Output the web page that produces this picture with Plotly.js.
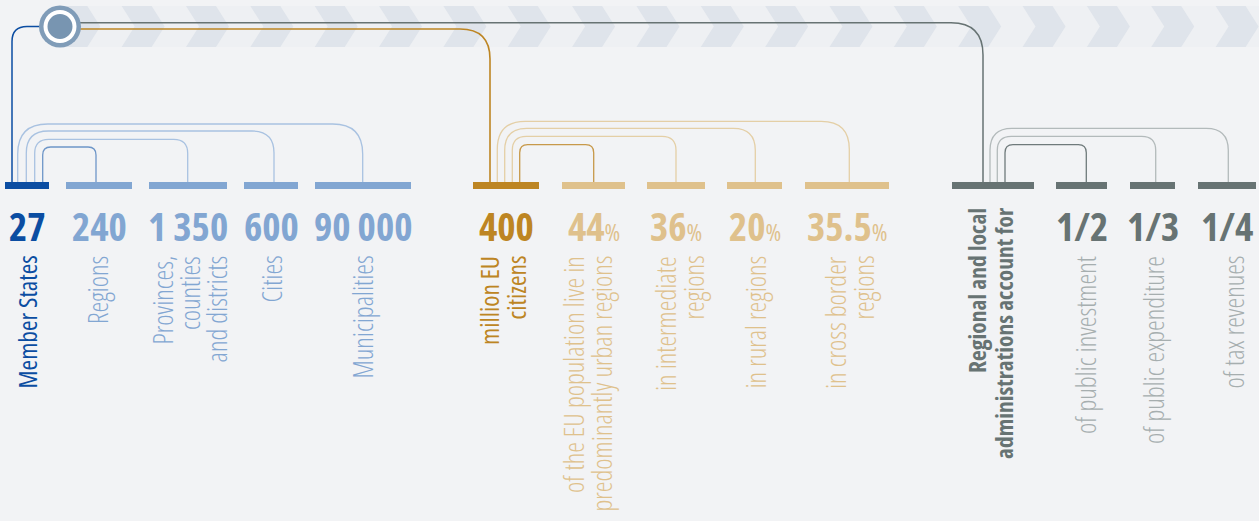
<!DOCTYPE html>
<html><head><meta charset="utf-8">
<script src="https://cdn.plot.ly/plotly-3.0.1.min.js"></script>
<style>html,body{margin:0;padding:0;background:#f2f3f5;}#chart{width:1259px;height:521px;}
svg text{font-stretch:75% !important;}</style>
</head><body><div id="chart"></div>
<script>
// ---- data ----
const blueValues = ['27', '240', '1 350', '600', '90 000'];
const blueLabels = ['Member States', 'Regions', 'Provinces,<br>counties<br>and districts', 'Cities', 'Municipalities'];
const goldValues = ['400', '44', '36', '20', '35.5'];
const goldUnits = ['', '%', '%', '%', '%'];
const goldLabels = ['million EU<br>citizens', 'of the EU population live in<br>predominantly urban regions', 'in intermediate<br>regions', 'in rural regions', 'in cross border<br>regions'];
const grayValues = ['', '1/2', '1/3', '1/4'];
const grayLabels = ['Regional and local<br>administrations account for', 'of public investment', 'of public expenditure', 'of tax revenues'];

// ---- layout geometry (pixel space) ----
const blueBars = [[5, 49], [66, 132], [149, 227], [244, 298], [315, 411]];
const goldBars = [[473, 539], [562, 625], [647, 705], [727, 782], [805, 889]];
const grayBars = [[952, 1034], [1056, 1107], [1130, 1175], [1198, 1256]];
const blueLabelX = [26, 97, 189, 271, 362];
const goldLabelX = [502, 587, 679, 755, 849];
const grayLabelX = [990, 1085, 1153, 1233];
const blueArcX = [[17.7, 362.7, 124, 30], [26.3, 274, 131, 22], [34.7, 187.7, 139.3, 14], [42.7, 96, 147, 8]];
const goldArcX = [[497.3, 849.3, 121.3, 28], [504.7, 755.3, 128.3, 22], [512.3, 676, 136.3, 14], [519.7, 593.7, 144.7, 8]];
const grayArcX = [[990, 1228.3, 128.3, 22], [997.3, 1155.7, 136.3, 14], [1005, 1086.3, 144.7, 8]];

const C = {
  bg: '#f2f3f5', band: '#eef0f3', chev: '#dfe4eb',
  blueD: '#0b4da2', blueL: '#82a6d2', blueArc: '#a9c2e1', blueArcIn: '#6e96c8',
  goldD: '#bd8523', goldL: '#dfc18c', goldArc: '#e4cfa6', goldArcIn: '#c7994a',
  grayD: '#677373', grayL: '#a6aeaf', grayArc: '#b3babb', grayArcIn: '#6f7a7b'
};
const FONT = 'Open Sans, sans-serif';
const BAR_Y0 = 182, BAR_Y1 = 189;
const NUM_SIZE = 39, UNIT_SIZE = 24, LABEL_SIZE = 27, LINE_PITCH = 27;

const shapes = [];
const annotations = [];

// chevron band
shapes.push({type: 'rect', xref: 'x', yref: 'y', x0: 60, x1: 1259, y0: 6, y1: 47, fillcolor: C.band, line: {width: 0}, layer: 'below'});
for (let x0 = 57.3; x0 < 1259; x0 += 64.35) {
  const p = `M ${x0},6 L ${x0 + 30},6 L ${x0 + 43},26.5 L ${x0 + 30},47 L ${x0},47 L ${x0 + 13},26.5 Z`;
  shapes.push({type: 'path', xref: 'x', yref: 'y', path: p, fillcolor: C.chev, line: {width: 0}, layer: 'below'});
}

function arc(x1, x2, t, r, color, w) {
  const b = BAR_Y0;
  const p = `M ${x1},${b} L ${x1},${t + r} Q ${x1},${t} ${x1 + r},${t} L ${x2 - r},${t} Q ${x2},${t} ${x2},${t + r} L ${x2},${b}`;
  shapes.push({type: 'path', xref: 'x', yref: 'y', path: p, line: {color: color, width: w || 1.3}});
}
blueArcX.forEach((a, i) => arc(a[0], a[1], a[2], a[3], i === 3 ? C.blueArcIn : C.blueArc));
goldArcX.forEach((a, i) => arc(a[0], a[1], a[2], a[3], i === 3 ? C.goldArcIn : C.goldArc));
grayArcX.forEach((a, i) => arc(a[0], a[1], a[2], a[3], i === 2 ? C.grayArcIn : C.grayArc));

// main connectors
shapes.push({type: 'path', xref: 'x', yref: 'y', path: 'M 45,26.5 L 27,26.5 Q 12,26.5 12,41.5 L 12,183', line: {color: C.blueD, width: 1.5}});
shapes.push({type: 'path', xref: 'x', yref: 'y', path: 'M 70,29 L 460,29 Q 490,29 490,59 L 490,183', line: {color: C.goldD, width: 1.6}});
shapes.push({type: 'path', xref: 'x', yref: 'y', path: 'M 70,22.7 L 951,22.7 Q 983,22.7 983,55 L 983,183', line: {color: C.grayD, width: 1.5}});

// bars
function bars(list, dark, light) {
  list.forEach((b, i) => shapes.push({type: 'rect', xref: 'x', yref: 'y', x0: b[0], x1: b[1], y0: BAR_Y0, y1: BAR_Y1,
    fillcolor: i === 0 ? dark : light, line: {width: 0}}));
}
bars(blueBars, C.blueD, C.blueL);
bars(goldBars, C.goldD, C.goldL);
bars(grayBars, C.grayD, C.grayD);

// circle
shapes.push({type: 'circle', xref: 'x', yref: 'y', x0: 39, x1: 81, y0: 5.5, y1: 47.5, fillcolor: '#809cb8', line: {width: 0}});
shapes.push({type: 'circle', xref: 'x', yref: 'y', x0: 43.5, x1: 76.5, y0: 10, y1: 43, fillcolor: '#ffffff', line: {width: 0}});
shapes.push({type: 'circle', xref: 'x', yref: 'y', x0: 47.5, x1: 72.5, y0: 14, y1: 39, fillcolor: '#7895b1', line: {width: 0}});

// numbers
function numAnn(value, unit, x, color) {
  let text = value;
  if (unit) text += '<span style="font-size:' + UNIT_SIZE + 'px;font-weight:400">' + unit + '</span>';
  annotations.push({xref: 'x', yref: 'y', x: x, y: 225.5, xanchor: 'center', yanchor: 'middle', showarrow: false,
    text: text, font: {family: FONT, size: NUM_SIZE, color: color, weight: 700}});
}
// rotated labels: one annotation per line, lines stacked left to right
function labelAnn(text, cx, y, color, weight, size) {
  const lines = text.split('<br>');
  const n = lines.length;
  lines.forEach((ln, k) => {
    annotations.push({xref: 'x', yref: 'y', x: cx + (k - (n - 1) / 2) * LINE_PITCH, y: y, xanchor: 'center', yanchor: 'top',
      showarrow: false, textangle: -90, text: ln, font: {family: FONT, size: size || LABEL_SIZE, color: color, weight: weight}});
  });
}
blueValues.forEach((v, i) => {
  const b = blueBars[i];
  numAnn(v, '', (b[0] + b[1]) / 2, i === 0 ? C.blueD : C.blueL);
  labelAnn(blueLabels[i], blueLabelX[i], 254, i === 0 ? C.blueD : C.blueL, i === 0 ? 400 : 340, i === 0 ? 25.5 : LABEL_SIZE);
});
goldValues.forEach((v, i) => {
  const b = goldBars[i];
  numAnn(v, goldUnits[i], (b[0] + b[1]) / 2, i === 0 ? C.goldD : C.goldL);
  labelAnn(goldLabels[i], goldLabelX[i], 254, i === 0 ? C.goldD : C.goldL, i === 0 ? 400 : 340, i === 0 ? 25.5 : LABEL_SIZE);
});
grayValues.forEach((v, i) => {
  const b = grayBars[i];
  if (v) numAnn(v, '', (b[0] + b[1]) / 2, C.grayD);
  labelAnn(grayLabels[i], grayLabelX[i], i === 0 ? 206 : 254, i === 0 ? C.grayD : C.grayL, i === 0 ? 700 : 340, i === 0 ? 23.5 : LABEL_SIZE);
});

const layout = {
  width: 1259, height: 521,
  margin: {l: 0, r: 0, t: 0, b: 0, pad: 0},
  paper_bgcolor: C.bg, plot_bgcolor: C.bg,
  showlegend: false,
  xaxis: {range: [0, 1259], visible: false, fixedrange: true},
  yaxis: {range: [521, 0], visible: false, fixedrange: true},
  shapes: shapes,
  annotations: annotations
};
Plotly.newPlot('chart', [{type: 'scatter', x: [], y: [], mode: 'markers'}], layout, {displayModeBar: false, staticPlot: true});
</script>
</body></html>
